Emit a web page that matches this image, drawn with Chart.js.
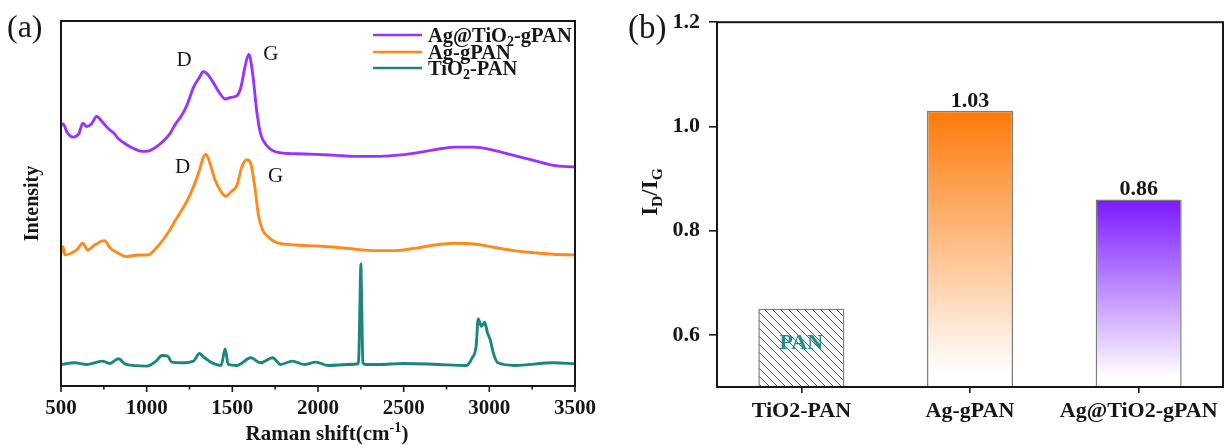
<!DOCTYPE html>
<html><head><meta charset="utf-8">
<script src="https://cdn.jsdelivr.net/npm/chart.js@4.4.1/dist/chart.umd.min.js"></script>
<style>
html,body{margin:0;padding:0;background:#fff;}
#wrap{position:relative;width:1232px;height:445px;overflow:hidden;background:#fff;}
#pa{position:absolute;left:0;top:0;width:615px;height:445px;}
#pb{position:absolute;left:615px;top:0;width:617px;height:445px;}
</style></head><body>
<div id="wrap"><div id="pa"><canvas id="ca"></canvas></div><div id="pb"><canvas id="cb"></canvas></div></div>
<script>
// ---------------- data: panel (a) Raman spectra ----------------
const seriesNames = ['Ag@TiO₂-gPAN', 'Ag-gPAN', 'TiO₂-PAN'];
const purpleX = [500,512,535,569,604,627,650,678,708,738,777,812,835,881,927,973,1008,1054,1100,1135,1169,1204,1238,1273,1308,1331,1354,1388,1423,1458,1492,1527,1550,1573,1596,1619,1642,1665,1700,1758,1873,1988,2104,2219,2335,2450,2565,2681,2796,2912,3027,3142,3258,3373,3500];
const purpleY = [78.5,79,76.5,75,76,79.2,78.2,79,81.2,79.8,77.5,76,74.5,72.8,71.5,70.7,70.8,72,74,76,79,81.5,85,90,93,94.8,94,91.5,88.5,86.5,87,87.5,90,96,100,94,83,76,72.5,70.5,70,69.8,69.5,69.2,69.2,69.5,70.2,71.2,72,72,71,69.5,68,66.5,66];
const orangeX = [500,512,523,558,592,627,655,696,754,788,835,881,950,1008,1054,1088,1135,1169,1204,1238,1273,1308,1331,1347,1370,1400,1435,1462,1492,1527,1555,1585,1608,1631,1654,1677,1712,1758,1873,1988,2104,2219,2335,2450,2565,2681,2796,2912,3027,3142,3258,3373,3500];
const orangeY = [40,42,39.5,40,41,43,41,42.5,43.8,41.5,40,39,39.5,39.5,41.5,43.5,47,50,53,56,60,65,69,69.8,67,62,58.5,57.2,58.5,60.5,66,68.2,67,60,51,47,44.8,43.2,42.5,42.2,41.8,41.2,40.8,40.8,41.5,42.5,43,42.8,41.8,40.8,40.2,39.7,39.5];
const tealX = [500,580,650,740,785,835,880,1000,1054,1089,1123,1146,1204,1273,1308,1338,1388,1435,1458,1476,1527,1608,1665,1735,1781,1850,1919,1988,2058,2173,2236,2245,2250,2255,2262,2277,2350,2500,2700,2865,2900,2923,2935,2954,2973,2989,3005,3023,3050,3150,3373,3500];
const tealY = [6.5,7,6.5,7.5,6.8,8.2,6.5,6,7.5,9.2,9,7.2,7,7.5,9.8,8.5,6.8,6.2,11.2,6.5,6.2,8.5,7,8.5,6.5,7.5,6.5,7.2,6.2,6.5,6.7,25,36.8,25,7,6.5,6.5,6.8,6.5,6.2,8.5,12,20.2,18,19.2,16,14,10,7,6.2,7,6.7];
const ramanTicks = [500,1000,1500,2000,2500,3000,3500];
const ramanMinorTicks = [750,1250,1750,2250,2750,3250];
const peakLabels = ['D','G','D','G'];
const peakLabelX = [1218,1724,1210,1752];
const peakLabelY = [98,100,66,63];

// ---------------- data: panel (b) ID/IG ratios ----------------
const categories = ['TiO2-PAN','Ag-gPAN','Ag@TiO2-gPAN'];
const ratioValues = [0.65,1.03,0.86];
const ratioTicks = [0.6,0.8,1.0,1.2];
const barInnerText = ['PAN','',''];
const showValue = [false,true,true];

// ---------------- styles ----------------
const FONT = "'Liberation Serif','Times New Roman',Times,serif";
const INK = '#161616';
const lineColors = ['#9933ff','#ff8a1c','#1b8582'];
const barTopColors = [null,'#ff7a0a','#7b18ff'];

function segsFromText(text){
  const segs=[]; let buf=''; const chars=[...text];
  for(let i=0;i<chars.length;i++){
    const ch=chars[i];
    if(ch==='₂'){ if(buf){segs.push({t:buf});buf='';} segs.push({t:'2',sub:true}); }
    else if(ch==='⁻'){ if(buf){segs.push({t:buf});buf='';} let s='-'; if(chars[i+1]==='¹'){s+='1';i++;} segs.push({t:s,sup:true}); }
    else buf+=ch;
  }
  if(buf) segs.push({t:buf});
  return segs;
}
function drawSegs(ctx, segs, x, y, size, weight, align, color){
  const f=(s)=>`${weight} ${s}px ${FONT}`;
  let total=0;
  segs.forEach(s=>{ const sz=(s.sub||s.sup)?size*0.68:size; ctx.font=f(sz); s.w=ctx.measureText(s.t).width; s.sz=sz; total+=s.w; });
  let cx = align==='center'? x-total/2 : (align==='right'? x-total : x);
  ctx.fillStyle=color; ctx.textBaseline='alphabetic'; ctx.textAlign='left';
  segs.forEach(s=>{ ctx.font=f(s.sz); const dy = s.sub? size*0.22 : (s.sup? -size*0.38 : 0); ctx.fillText(s.t,cx,y+dy); cx+=s.w; });
}

const framePlugin = {
  id:'frame',
  afterDraw(chart){
    const {ctx, chartArea:a}=chart;
    ctx.save(); ctx.strokeStyle=INK; ctx.lineWidth=2;
    ctx.strokeRect(a.left,a.top,a.right-a.left,a.bottom-a.top);
    ctx.restore();
  }
};

const decorA = {
  id:'decorA',
  afterDraw(chart){
    const {ctx, chartArea:a, scales:{x,y}}=chart;
    ctx.save();
    ctx.strokeStyle=INK; ctx.lineWidth=1.6;
    ramanTicks.forEach(v=>{ const px=x.getPixelForValue(v); ctx.beginPath(); ctx.moveTo(px,a.bottom); ctx.lineTo(px,a.bottom+6); ctx.stroke(); });
    ramanMinorTicks.forEach(v=>{ const px=x.getPixelForValue(v); ctx.beginPath(); ctx.moveTo(px,a.bottom); ctx.lineTo(px,a.bottom+3.5); ctx.stroke(); });
    // peak labels
    ctx.fillStyle=INK; ctx.font=`21px ${FONT}`; ctx.textAlign='center'; ctx.textBaseline='middle';
    peakLabels.forEach((t,i)=>ctx.fillText(t, x.getPixelForValue(peakLabelX[i]), y.getPixelForValue(peakLabelY[i])));
    // legend
    const rows=[35,52,68];
    chart.data.datasets.forEach((ds,i)=>{
      ctx.strokeStyle=ds.borderColor; ctx.lineWidth=2.6;
      ctx.beginPath(); ctx.moveTo(373,rows[i]); ctx.lineTo(422,rows[i]); ctx.stroke();
      drawSegs(ctx, segsFromText(ds.label), 428, rows[i]+6.5, 20.5, 'bold', 'left', INK);
    });
    // x title
    drawSegs(ctx, segsFromText('Raman shift(cm⁻¹)'), (a.left+a.right)/2+9, 440, 21, 'bold', 'center', INK);
    // panel letter
    ctx.fillStyle=INK; ctx.font=`32px ${FONT}`; ctx.textAlign='left'; ctx.textBaseline='middle';
    ctx.fillText('(a)', 7, 29);
    ctx.restore();
  }
};

const chartA = new Chart(document.getElementById('ca'), {
  type:'line',
  data:{ datasets:[
    {label:seriesNames[0], data:purpleX.map((v,i)=>({x:v,y:purpleY[i]})), borderColor:lineColors[0]},
    {label:seriesNames[1], data:orangeX.map((v,i)=>({x:v,y:orangeY[i]})), borderColor:lineColors[1]},
    {label:seriesNames[2], data:tealX.map((v,i)=>({x:v,y:tealY[i]})), borderColor:lineColors[2]}
  ]},
  options:{
    responsive:true, maintainAspectRatio:false, animation:false, devicePixelRatio:1,
    layout:{padding:{top:21,right:40,left:0,bottom:0}},
    plugins:{legend:{display:false}, tooltip:{enabled:false}},
    elements:{point:{radius:0}, line:{borderWidth:2.9, cubicInterpolationMode:'monotone', fill:false}},
    scales:{
      x:{type:'linear', min:500, max:3500,
        afterBuildTicks:s=>{ s.ticks=ramanTicks.map(v=>({value:v})); },
        afterFit:s=>{ s.height=59; },
        grid:{display:false, drawTicks:false}, border:{display:false},
        ticks:{font:{family:FONT,size:21,weight:'bold'}, color:INK, padding:10, maxRotation:0, autoSkip:false, callback:v=>String(v)}
      },
      y:{min:0, max:110,
        afterFit:s=>{ s.width=61; },
        grid:{display:false, drawTicks:false}, border:{display:false},
        ticks:{display:false},
        title:{display:true, text:'Intensity', color:INK, font:{family:FONT,size:20,weight:'bold'}, padding:{top:21,bottom:0}}
      }
    }
  },
  plugins:[framePlugin, decorA]
});

// ---------------- panel (b) ----------------
function makeHatch(ctx){
  const c=document.createElement('canvas'); c.width=8; c.height=8;
  const g=c.getContext('2d');
  g.fillStyle='#fff'; g.fillRect(0,0,8,8);
  g.strokeStyle='#5e5e5e'; g.lineWidth=1;
  g.beginPath(); g.moveTo(-2,-2); g.lineTo(10,10); g.moveTo(-2,6); g.lineTo(2,10); g.moveTo(6,-2); g.lineTo(10,2); g.stroke();
  return ctx.createPattern(c,'repeat');
}
let hatch=null;

const decorB = {
  id:'decorB',
  afterDraw(chart){
    const {ctx, chartArea:a, scales:{y}}=chart;
    const meta=chart.getDatasetMeta(0);
    ctx.save();
    meta.data.forEach((el,i)=>{
      if(showValue[i]){
        ctx.fillStyle=INK; ctx.font=`bold 22px ${FONT}`; ctx.textAlign='center'; ctx.textBaseline='alphabetic';
        ctx.fillText(ratioValues[i].toFixed(2), el.x, el.y-4);
      }
      if(barInnerText[i]){
        ctx.fillStyle='#1f8f8c'; ctx.font=`bold 22px ${FONT}`; ctx.textAlign='center'; ctx.textBaseline='middle';
        ctx.fillText(barInnerText[i], el.x, (el.y+a.bottom)/2-5);
      }
    });
    // y title I_D/I_G
    ctx.translate(42, 192); ctx.rotate(-Math.PI/2);
    drawSegs(ctx, [{t:'I'},{t:'D',sub:true},{t:'/I'},{t:'G',sub:true}], 0, 0, 23, 'bold', 'center', INK);
    ctx.setTransform(1,0,0,1,0,0);
    ctx.fillStyle=INK; ctx.font=`33px ${FONT}`; ctx.textAlign='left'; ctx.textBaseline='middle';
    ctx.fillText('(b)', 13, 29);
    ctx.restore();
  }
};

const chartB = new Chart(document.getElementById('cb'), {
  type:'bar',
  data:{ labels:categories, datasets:[{
    data:ratioValues,
    backgroundColor:(c)=>{
      const chart=c.chart; const a=chart.chartArea;
      if(!a) return '#fff';
      const i=c.dataIndex;
      if(!barTopColors[i]){ if(!hatch) hatch=makeHatch(chart.ctx); return hatch; }
      const top=chart.scales.y.getPixelForValue(ratioValues[i]);
      const g=chart.ctx.createLinearGradient(0,top,0,a.bottom);
      g.addColorStop(0,barTopColors[i]); g.addColorStop(0.95,'#ffffff'); g.addColorStop(1,'#ffffff');
      return g;
    },
    borderColor:'#7c7c7c', borderWidth:1.5, borderSkipped:false,
    barPercentage:0.51, categoryPercentage:1
  }]},
  options:{
    responsive:true, maintainAspectRatio:false, animation:false, devicePixelRatio:1,
    layout:{padding:{top:21,right:9,left:0,bottom:0}},
    plugins:{legend:{display:false}, tooltip:{enabled:false}},
    scales:{
      x:{
        afterFit:s=>{ s.height=58; },
        grid:{display:true, drawOnChartArea:false, offset:false, tickLength:6, color:INK, lineWidth:1.6},
        border:{display:false},
        ticks:{font:{family:FONT,size:22,weight:'bold'}, color:INK, padding:5, maxRotation:0, autoSkip:false}
      },
      y:{min:0.5, max:1.2,
        afterBuildTicks:s=>{ s.ticks=ratioTicks.map(v=>({value:v})); },
        afterFit:s=>{ s.width=102; },
        grid:{display:true, drawOnChartArea:false, tickLength:8, color:INK, lineWidth:1.6},
        border:{display:false},
        ticks:{font:{family:FONT,size:22,weight:'bold'}, color:INK, padding:9, callback:v=>Number(v).toFixed(1)}
      }
    }
  },
  plugins:[framePlugin, decorB]
});
</script>
</body></html>
